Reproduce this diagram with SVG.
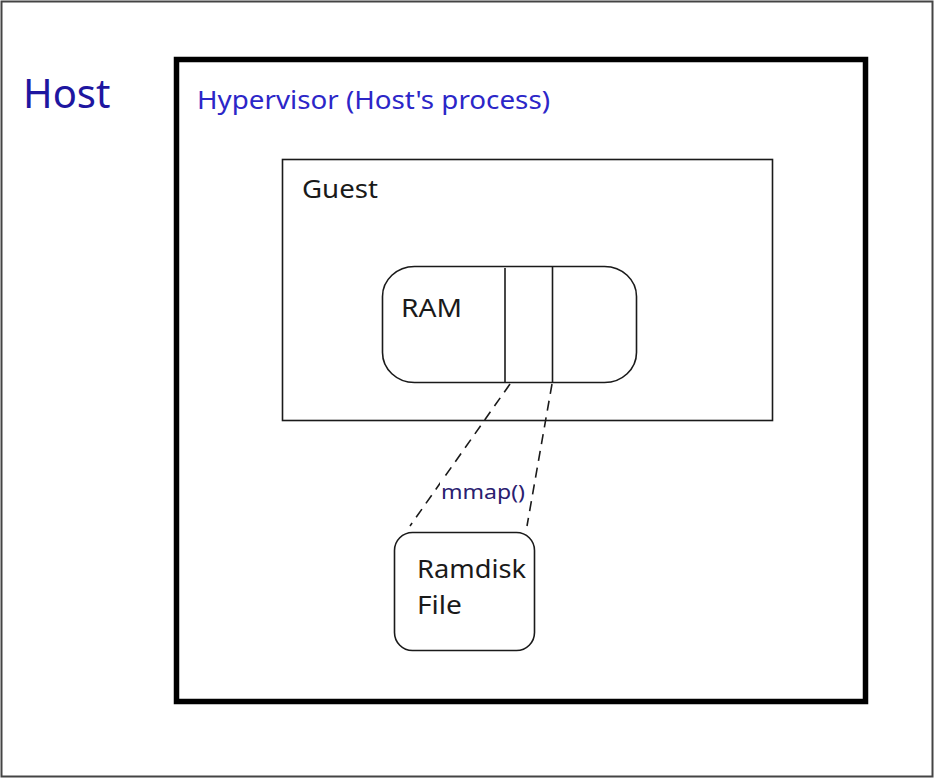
<svg xmlns="http://www.w3.org/2000/svg" width="935" height="779" viewBox="0 0 935 779">
<style>
text { font-family: "Noto Sans", "Open Sans", sans-serif; }
.thin { fill: none; stroke: #1a1a1a; stroke-width: 1.6; }
.lbl { fill: #1a1a1a; font-size: 26px; }
.dash { fill: none; stroke: #1a1a1a; stroke-width: 1.6; stroke-dasharray: 10 7; }
</style>
<rect x="0" y="0" width="935" height="779" fill="#fff"/>
<g id="host">
<rect x="1.5" y="1.5" width="931" height="775" fill="none" stroke="#444" stroke-width="2"/>
<text x="23" y="108" font-size="40" fill="#1e16a0">Host</text>
</g>
<g id="hypervisor">
<rect x="176.5" y="59.5" width="689" height="642" fill="none" stroke="#000" stroke-width="5.5"/>
<text x="197" y="109" font-size="26" fill="#2c26c8" textLength="353" lengthAdjust="spacingAndGlyphs">Hypervisor (Host's process)</text>
</g>
<g id="guest">
<rect x="282.5" y="159.5" width="490" height="261" class="thin"/>
<text x="302" y="198" class="lbl" textLength="76" lengthAdjust="spacingAndGlyphs">Guest</text>
</g>
<g id="ram">
<rect x="382.5" y="266.5" width="254" height="116" rx="32" ry="30" class="thin"/>
<line x1="505" y1="268" x2="505" y2="382" class="thin"/>
<line x1="552.5" y1="266.5" x2="552.5" y2="382.5" class="thin"/>
<text x="401" y="317" class="lbl" textLength="61" lengthAdjust="spacingAndGlyphs">RAM</text>
</g>
<g id="ramdisk">
<rect x="394.5" y="532.5" width="140" height="118" rx="18" ry="18" class="thin"/>
<text x="417" y="578" class="lbl" textLength="109" lengthAdjust="spacingAndGlyphs">Ramdisk</text>
<text x="417" y="614" class="lbl" textLength="45" lengthAdjust="spacingAndGlyphs">File</text>
</g>
<g id="connectors">
<line x1="510" y1="384" x2="410" y2="526" class="dash"/>
<line x1="552" y1="384" x2="527" y2="526" class="dash"/>
<rect x="440" y="480" width="86" height="24" fill="#fff"/>
<text x="441" y="499" font-size="20" fill="#2a2070" textLength="84" lengthAdjust="spacingAndGlyphs">mmap()</text>
</g>
</svg>
